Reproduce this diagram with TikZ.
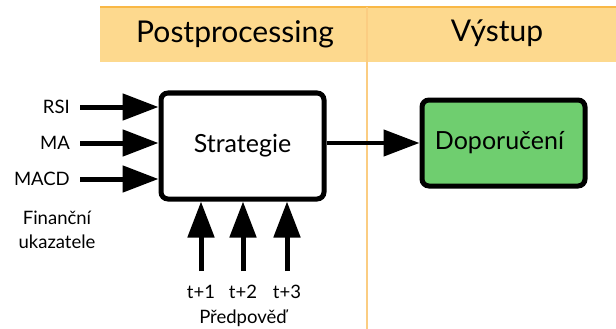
\documentclass[tikz,border=0pt]{standalone}
\usepackage{fontspec}
\setmainfont{Lato}
\usetikzlibrary{arrows.meta}
\definecolor{hdr}{RGB}{253,217,142}
\definecolor{hdrline}{RGB}{249,184,70}
\definecolor{divline}{RGB}{251,205,130}
\definecolor{okgreen}{RGB}{111,206,111}
\tikzset{
  blk/.style={draw=black, line width=5pt, rounded corners=7pt, inner sep=0pt},
  inarrow/.style={line width=5pt, -{Triangle[length=36pt,width=26pt]}},
  outarrow/.style={line width=4.5pt, -{Triangle[length=36pt,width=26pt]}},
  lbl/.style={font=\fontsize{18.5}{20}\selectfont, inner sep=0pt},
  hdrtext/.style={font=\fontsize{30}{32}\selectfont, inner sep=0pt},
}
\begin{document}
\begin{tikzpicture}[x=1pt,y=-1pt]
\useasboundingbox (0,0) rectangle (616,329);
% header band
\fill[hdr] (100,7) rectangle (616,62);
\draw[hdrline, line width=2pt] (100,7) -- (616,7);
\draw[divline, line width=2pt] (367,7) -- (367,329);
\node[hdrtext] (hp) at (235,34) {Postprocessing};
\node[hdrtext] (hv) at (497,33) {Výstup};
% boxes
\node[blk, fill=white, minimum width=163pt, minimum height=106pt, font=\fontsize{25}{28}\selectfont] (s) at (242.5,146) {Strategie};
\node[blk, fill=okgreen, minimum width=163pt, minimum height=86pt, font=\fontsize{25}{28}\selectfont] (d) at (503.5,143) {Doporučení\hspace*{8pt}};
% input labels
\node[lbl, anchor=east] (rsi) at (70,107) {RSI};
\node[lbl, anchor=east] (ma) at (70,143) {MA};
\node[lbl, anchor=east] (macd) at (70,179) {MACD};
\node[lbl, align=center, font=\fontsize{18.5}{24}\selectfont] (fin) at (57,230) {Finanční\\ukazatele};
\coordinate (r0) at (80,107);
\coordinate (m0) at (80,143);
\coordinate (c0) at (80,179);
\draw[inarrow] (r0) -- (r0 -| s.west);
\draw[inarrow] (m0) -- (m0 -| s.west);
\draw[inarrow] (c0) -- (c0 -| s.west);
% bottom
\node[lbl] (t1) at (201,292) {t+1};
\node[lbl] (t2) at (243,292) {t+2};
\node[lbl] (t3) at (287,292) {t+3};
\node[lbl] (pred) at (243,318) {Předpověď};
\coordinate (b1) at (201,271);
\coordinate (b2) at (243,271);
\coordinate (b3) at (287,271);
\draw[inarrow] (b1) -- (b1 |- s.south);
\draw[inarrow] (b2) -- (b2 |- s.south);
\draw[inarrow] (b3) -- (b3 |- s.south);
% output
\draw[outarrow] (s.east |- 0,143) -- (d.west |- 0,143);
\end{tikzpicture}
\end{document}
